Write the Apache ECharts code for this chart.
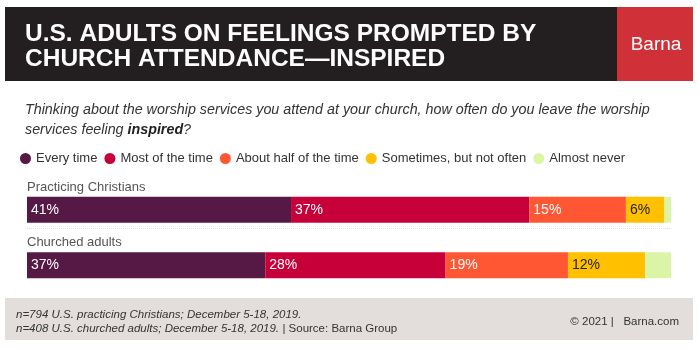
<!DOCTYPE html>
<html><head><meta charset="utf-8">
<script src="https://cdn.jsdelivr.net/npm/echarts@6/dist/echarts.min.js"></script>
<style>html,body{margin:0;padding:0;background:#fff}#c{width:700px;height:350px}</style>
</head><body><div id="c"></div>
<script>
const categories = ["Practicing Christians", "Churched adults"];
const seriesNames = ["Every time", "Most of the time", "About half of the time", "Sometimes, but not often", "Almost never"];
const everyTime = [41, 37];
const mostOfTime = [37, 28];
const aboutHalf = [15, 19];
const sometimes = [6, 12];
const almostNever = [1, 4];
const colors = ["#561845", "#C8003A", "#FF5733", "#FFC000", "#D9F5A5"];
const labelColors = ["#fff", "#fff", "#fff", "#222", "#222"];
const showLabel = [true, true, true, true, false];

const values = [everyTime, mostOfTime, aboutHalf, sometimes, almostNever];
const font = "Liberation Sans, Arial, sans-serif";

const chart = echarts.init(document.getElementById('c'), null, {renderer: 'canvas'});
const baseGraphics = [
  {type: 'rect', shape: {x: 5, y: 7, width: 612, height: 74}, style: {fill: '#231F20'}},
  {type: 'rect', shape: {x: 617, y: 7, width: 76, height: 74}, style: {fill: '#D03038'}},
  {type: 'text', left: 25, top: 22, style: {text: 'U.S. ADULTS ON FEELINGS PROMPTED BY\nCHURCH ATTENDANCE\u2014INSPIRED',
    fill: '#fff', font: 'bold 24.5px ' + font, lineHeight: 25}},
  {type: 'text', x: 656, y: 45, style: {text: 'Barna', fill: '#fff', font: '19px ' + font, align: 'center', verticalAlign: 'middle'}},
  {type: 'text', left: 25, top: 103, style: {
    text: '{i|Thinking about the worship services you attend at your church, how often do you leave the worship}\n{i|services feeling }{b|inspired}{i|?}',
    rich: {
      i: {font: 'italic 14.3px ' + font, fill: '#333', lineHeight: 20},
      b: {font: 'italic bold 14.3px ' + font, fill: '#222', lineHeight: 20}
    }}},
  {type: 'line', shape: {x1: 27, y1: 228.5, x2: 671, y2: 228.5}, style: {stroke: '#ddd', lineWidth: 1, lineDash: [1, 1]}},
  {type: 'rect', shape: {x: 5, y: 298, width: 688, height: 42}, style: {fill: '#E3DEDC'}},
  {type: 'text', left: 16, top: 309, style: {
    text: '{i|n=794 U.S. practicing Christians; December 5-18, 2019.}\n{i|n=408 U.S. churched adults; December 5-18, 2019.} {n|| Source: Barna Group}',
    rich: {
      i: {font: 'italic 11.5px ' + font, fill: '#333', lineHeight: 14},
      n: {font: '11.5px ' + font, fill: '#333', lineHeight: 14}
    }}},
  {type: 'text', right: 21, top: 316, style: {text: '\u00a9 2021 |   Barna.com', font: '11.5px ' + font, fill: '#333'}}
];
chart.setOption({
  animation: false,
  textStyle: {fontFamily: font},
  color: colors,
  legend: {
    left: 15, top: 147, icon: 'circle', itemWidth: 11, itemHeight: 11, itemGap: 7,
    textStyle: {fontSize: 13, color: '#333', fontFamily: font},
    data: seriesNames
  },
  grid: {left: 27, right: 29, top: 182, height: 111},
  xAxis: {type: 'value', min: 0, max: 100, show: false},
  yAxis: {
    type: 'category', data: categories, inverse: true,
    axisLine: {show: false}, axisTick: {show: false}, splitLine: {show: false},
    axisLabel: {show: false}
  },
  series: seriesNames.map((n, i) => ({
    name: n, type: 'bar', stack: 'a', barWidth: 26, data: values[i],
    itemStyle: {color: colors[i]},
    label: {show: showLabel[i], position: 'insideLeft', offset: [-1, 0], formatter: '{c}%',
      color: labelColors[i], fontSize: 14, fontFamily: font}
  })),
  graphic: baseGraphics
});
// category labels placed above each bar, positioned through the axis scale
const catLabels = categories.map((c) => {
  const p = chart.convertToPixel({gridIndex: 0}, [0, c]);
  return {type: 'text', x: p[0], y: p[1] - 22.5, style: {text: c, font: '13px ' + font, fill: '#555', verticalAlign: 'middle'}};
});
chart.setOption({graphic: baseGraphics.concat(catLabels)});
</script></body></html>
